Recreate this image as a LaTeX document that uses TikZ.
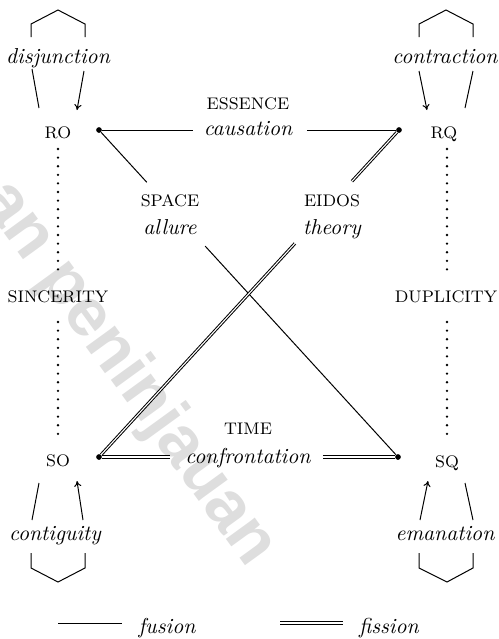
\documentclass[tikz,border=0pt]{standalone}
\usepackage{fontspec}
\newfontfamily\wmfont{Liberation Sans}
\usetikzlibrary{arrows.meta,calc}
\begin{document}
\begin{tikzpicture}[x=0.5pt,y=-0.5pt,
  fusion/.style={line width=0.5pt},
  fissionline/.style={double, double distance=0.55pt, line width=0.5pt},
  arr/.style={line width=0.5pt,-{To[length=2.8pt,width=3.6pt]}},
  bracket/.style={line width=0.5pt},
  dotline/.style={line width=1.3pt, line cap=round, dash pattern=on 0pt off 4.3pt},
  sc/.style={font=\fontsize{8.4}{10}\selectfont, anchor=base, inner sep=0pt},
  it/.style={font=\fontsize{10.8}{13}\selectfont\itshape, anchor=base, inner sep=0pt},
  hub/.style={circle, fill, inner sep=0pt, minimum size=2.7pt},
  wm/.style={font=\fontsize{34}{40}\selectfont\wmfont\bfseries, text=black!13, inner sep=0pt}
]
\useasboundingbox (0,0) rectangle (499,639);
\begin{scope}
\clip (0,0) rectangle (499,639);
\node[wm, rotate=-54] (wmark) at (128,374) {an peninjauan};
\end{scope}

% hubs
\node[hub] (ROd) at (99,130) {};
\node[hub] (RQd) at (399,130) {};
\node[hub] (SOd) at (99,457) {};
\node[hub] (SQd) at (398,457) {};

% labels
\node[sc] (RO) at (58,138) {RO};
\node[sc] (RQ) at (444,138) {RQ};
\node[sc] (SO) at (58,466) {SO};
\node[sc] (SQ) at (447,467) {SQ};
\node[sc] (sinc) at (58,302) {SINCERITY};
\node[sc] (dupl) at (446,302) {DUPLICITY};
\node[sc] (ess) at (248,109) {ESSENCE};
\node[it] (caus) at (248,135) {causation};
\node[sc] (space) at (170,206) {SPACE};
\node[it] (allure) at (170,234) {allure};
\node[sc] (eidos) at (332,206) {EIDOS};
\node[it] (theory) at (332,234) {theory};
\node[sc] (time) at (248,434) {TIME};
\node[it] (confr) at (248,463) {confrontation};
\node[it] (disj) at (58,63) {disjunction};
\node[it] (contr) at (445,63) {contraction};
\node[it] (conti) at (55,540) {contiguity};
\node[it] (eman) at (445,540) {emanation};
\node[it] (fus) at (167,633) {fusion};
\node[it] (fis) at (389,633) {fission};

% essence line
\draw[fusion] (ROd) -- ($(ROd)!0.313!(RQd)$);
\draw[fusion] ($(ROd)!0.693!(RQd)$) -- (RQd);
% space line RO -> SQ
\draw[fusion] (ROd) -- ($(ROd)!0.16!(SQd)$);
\draw[fusion] ($(ROd)!0.355!(SQd)$) -- (SQd);
% eidos line RQ -> SO
\draw[fissionline] (RQd) -- ($(RQd)!0.157!(SOd)$);
\draw[fissionline] ($(RQd)!0.347!(SOd)$) -- (SOd);
% time line
\draw[fissionline] (SOd) -- ($(SOd)!0.237!(SQd)$);
\draw[fissionline] ($(SOd)!0.749!(SQd)$) -- (SQd);
\node[hub] at (ROd) {};
\node[hub] at (RQd) {};
\node[hub] at (SOd) {};
\node[hub] at (SQd) {};

% dotted verticals
\coordinate (ld1) at (58,149); \coordinate (ld2) at (58,273);
\coordinate (ld3) at (58,322); \coordinate (ld4) at (58,438);
\coordinate (rd1) at (447,149); \coordinate (rd2) at (447,273);
\coordinate (rd3) at (447,322); \coordinate (rd4) at (447,438);
\draw[dotline] (ld1) -- (ld2);
\draw[dotline] (ld3) -- (ld4);
\draw[dotline] (rd1) -- (rd2);
\draw[dotline] (rd3) -- (rd4);

% brackets
\draw[bracket] (31,37) -- (31,24) -- (58,10) -- (85,24) -- (85,37);
\draw[bracket] (419,37) -- (419,24) -- (446,10) -- (473,24) -- (473,37);
\draw[bracket] (31,553) -- (31,568) -- (58,582) -- (85,568) -- (85,553);
\draw[bracket] (419,553) -- (419,568) -- (447,582) -- (473,568) -- (473,553);

% side connectors
\coordinate (a1) at (32,69); \coordinate (a2) at (39,108);
\coordinate (a3) at (84,71); \coordinate (a4) at (77,110);
\draw[fusion] (a1) -- (a2);
\draw[arr] (a3) -- (a4);
\coordinate (b1) at (419,71); \coordinate (b2) at (427,110);
\coordinate (b3) at (473,71); \coordinate (b4) at (465,108);
\draw[arr] (b1) -- (b2);
\draw[fusion] (b3) -- (b4);
\coordinate (c1) at (39,483); \coordinate (c2) at (32,520);
\coordinate (c3) at (83,520); \coordinate (c4) at (77,481);
\draw[fusion] (c1) -- (c2);
\draw[arr] (c3) -- (c4);
\coordinate (e1) at (420,520); \coordinate (e2) at (428,481);
\coordinate (e3) at (465,483); \coordinate (e4) at (473,520);
\draw[arr] (e1) -- (e2);
\draw[fusion] (e3) -- (e4);

% legend
\coordinate (l1) at (58,623); \coordinate (l2) at (122,623);
\coordinate (l3) at (280,623); \coordinate (l4) at (343,623);
\draw[fusion] (l1) -- (l2);
\draw[fissionline] (l3) -- (l4);
\end{tikzpicture}
\end{document}
